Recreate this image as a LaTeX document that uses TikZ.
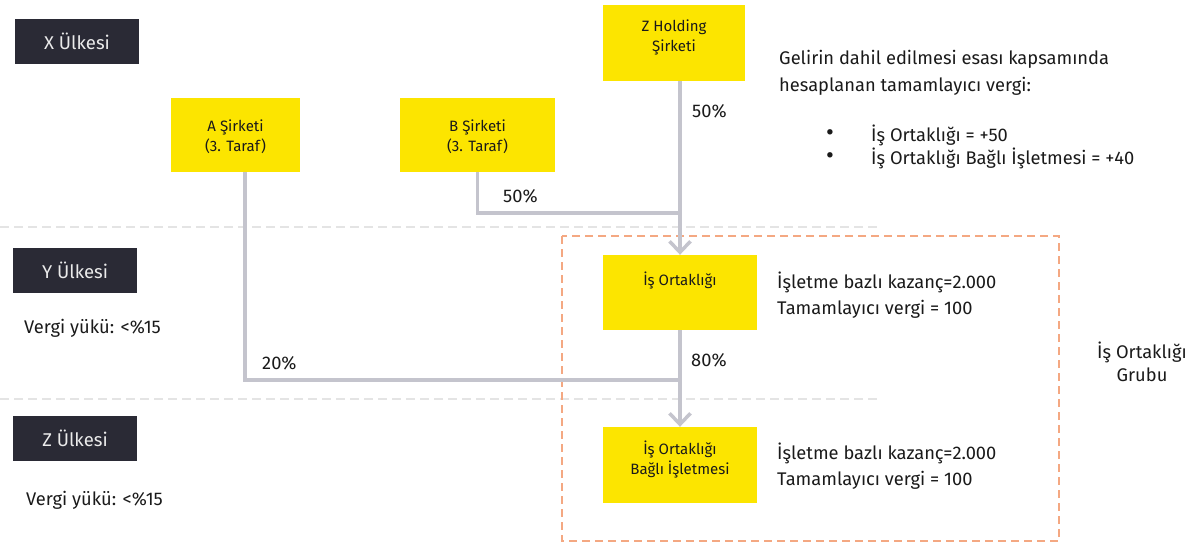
\documentclass[tikz,border=0pt]{standalone}
\usepackage{fontspec}
\setmainfont{Fira Sans}
\usetikzlibrary{arrows.meta}
\definecolor{eydark}{HTML}{2A2A35}
\definecolor{eyyellow}{HTML}{FCE500}
\definecolor{linegray}{HTML}{C4C4CD}
\definecolor{sepgray}{HTML}{E4E4E4}
\definecolor{grporange}{HTML}{F4A882}
\definecolor{txt}{HTML}{1A1A1A}
\tikzset{
  country/.style={fill=eydark, text=white!92!black, minimum width=124pt, minimum height=45pt, inner sep=0pt, font=\fontsize{18.5}{20}\selectfont},
  entity/.style={fill=eyyellow, inner sep=0pt},
  etext/.style={text=txt, inner sep=0pt, align=center, font=\fontsize{15}{20}\selectfont},
  plain/.style={text=txt, inner sep=0pt, font=\fontsize{18.3}{27}\selectfont},
  bulletmark/.style={text=txt, inner sep=0pt, font=\fontsize{24}{27}\selectfont},
  link/.style={draw=linegray, line width=3.5pt},
  arrowlink/.style={link, -{Straight Barb[length=11pt,width=21pt,line width=3.5pt]}},
  separator/.style={draw=sepgray, line width=2pt, dash pattern=on 9pt off 5pt},
  group/.style={draw=grporange, line width=2pt, dash pattern=on 8pt off 5pt}
}
\begin{document}
\begin{tikzpicture}[x=1pt,y=-1pt]
\useasboundingbox (0,0) rectangle (1200,544);
% separators
\draw[separator] (0,227) -- (880,227);
\draw[separator] (0,399) -- (880,399);
% group box
\draw[group] (562,236) rectangle (1059,541);
% country labels
\node[country] (xc) at (77,41.5) {X Ülkesi};
\node[country] (yc) at (75,270.5) {Y Ülkesi};
\node[country] (zc) at (75,438.5) {Z Ülkesi};
\node[plain, anchor=west] (yv) at (24,328) {Vergi yükü: <\%15};
\node[plain, anchor=west] (zv) at (26,500) {Vergi yükü: <\%15};
% entities
\node[entity, minimum width=129pt, minimum height=74pt] (a) at (235.5,135) {};
\node[etext] (at) at ([yshift=-1.5pt]a.center) {A Şirketi\\(3. Taraf)};
\node[entity, minimum width=155pt, minimum height=74pt] (b) at (477.5,135) {};
\node[etext] (bt) at ([yshift=-1.5pt]b.center) {B Şirketi\\(3. Taraf)};
\node[entity, minimum width=142pt, minimum height=76pt] (z) at (674,43) {};
\node[etext] (zt) at ([yshift=6pt]z.center) {Z Holding\\Şirketi};
\node[entity, minimum width=154pt, minimum height=75pt] (io) at (680,292.5) {};
\node[etext] (iot) at ([yshift=12pt]io.center) {İş Ortaklığı};
\node[entity, minimum width=154pt, minimum height=76pt] (ib) at (680,465) {};
\node[etext, font=\fontsize{15}{19.5}\selectfont] (ibt) at ([yshift=5.5pt]ib.center) {İş Ortaklığı\\Bağlı İşletmesi};
% junctions
\coordinate (jb) at (680,213);
\coordinate (ja) at (680,380);
\coordinate (as) at (245,172);
% connectors
\draw[arrowlink] (z.south -| jb) -- (io.north -| jb);
\draw[link] (b.south) |- (jb);
\draw[link] (as) |- (ja);
\draw[arrowlink] (io.south -| ja) -- (ib.north -| ja);
% percentages
\node[plain, anchor=west] (p1) at (692,111) {50\%};
\node[plain, anchor=west] (p2) at (503,196) {50\%};
\node[plain, anchor=west] (p3) at (262,363) {20\%};
\node[plain, anchor=west] (p4) at (691,360) {80\%};
% right texts
\node[plain, anchor=west] (g1) at (779,59) {Gelirin dahil edilmesi esası kapsamında};
\node[plain, anchor=west] (g2) at (779,86) {hesaplanan tamamlayıcı vergi:};
\node[bulletmark] (b1) at (830,135) {•};
\node[bulletmark] (b2) at (830,158) {•};
\node[plain, anchor=west] (t1) at (871,135) {İş Ortaklığı = +50};
\node[plain, anchor=west] (t2) at (871,158) {İş Ortaklığı Bağlı İşletmesi = +40};
\node[plain, anchor=west] (k1) at (777,282) {İşletme bazlı kazanç=2.000};
\node[plain, anchor=west] (k2) at (777,309) {Tamamlayıcı vergi = 100};
\node[plain, anchor=west] (k3) at (777,453) {İşletme bazlı kazanç=2.000};
\node[plain, anchor=west] (k4) at (777,480) {Tamamlayıcı vergi = 100};
\node[plain] (grp1) at (1142,352) {İş Ortaklığı};
\node[plain] (grp2) at (1142,375) {Grubu};
\end{tikzpicture}
\end{document}
